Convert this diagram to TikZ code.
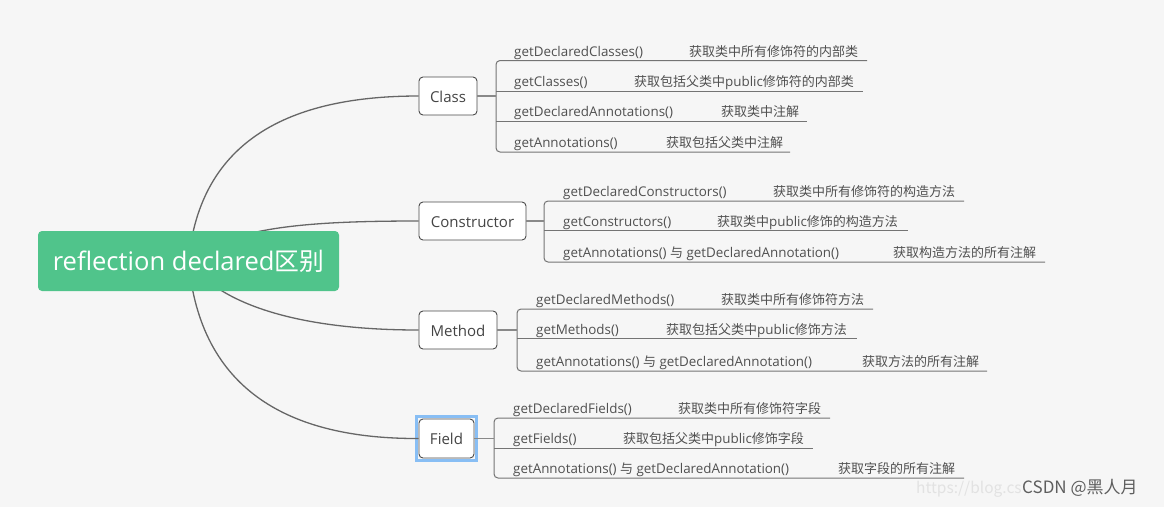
\documentclass[tikz,border=0pt]{standalone}
\usepackage{fontspec}
\setmainfont{Open Sans}[Scale=1.03]
\newfontfamily\cjk{Noto Sans CJK SC}
\definecolor{bgcol}{HTML}{F6F6F6}
\definecolor{rootcol}{HTML}{50C48B}
\definecolor{curvecol}{HTML}{666666}
\definecolor{boxline}{HTML}{4A4A4A}
\definecolor{brcol}{HTML}{747474}
\definecolor{leafcol}{HTML}{505050}
\definecolor{topiccol}{HTML}{444444}
\definecolor{hlcol}{HTML}{88BEF4}
\definecolor{wmcol}{HTML}{5E5E5E}
\definecolor{wmfaint}{HTML}{E2E2E2}
\newcommand\leafrow[8]{%
  \coordinate (#1s) at (#2,#5);
  \coordinate (#1e) at (#6,#5);
  \node[leaf] (#1n) at (#3,#5-4.5) {#7};
  \node[leaf] (#1d) at (#4,#5-4.5) {#8};
}
\begin{document}
\begin{tikzpicture}[x=1pt,y=-1pt,
  rootbox/.style={fill=rootcol, rounded corners=4pt, text=white, inner sep=0pt,
    minimum width=301pt, minimum height=60pt, text height=21pt, text depth=3pt,
    font=\fontsize{24.8}{28}\selectfont},
  topic/.style={draw=boxline, fill=white, rounded corners=4pt, line width=0.9pt,
    inner sep=0pt, minimum height=38pt, text=topiccol, text height=14pt, text depth=2pt,
    font=\fontsize{14.6}{17}\selectfont},
  leaf/.style={anchor=base west, inner sep=0pt, text=leafcol, font=\fontsize{13}{15}\selectfont},
  curve/.style={draw=curvecol, line width=1.3pt},
  br/.style={draw=brcol, line width=1pt, rounded corners=4pt},
  stub/.style={draw=brcol!85, line width=1.4pt},
  hl/.style={draw=hlcol, line width=2.8pt},
  wm/.style={anchor=base west, inner sep=0pt, font=\cjk\fontsize{17}{20}\selectfont}
]
\useasboundingbox (0,0) rectangle (1164,507);
\fill[bgcol] (0,0) rectangle (1164,507);

\coordinate (rc) at (188.5,261);

% topics
\node[topic, minimum width=58pt] (cls) at (448,96) {Class};
\node[topic, minimum width=107pt] (con) at (472.5,221) {Constructor};
\node[topic, minimum width=78pt] (met) at (458,330) {Method};
\node[topic, minimum width=55pt, minimum height=39pt] (fld) at (446.5,438.5) {Field};
\draw[hl] ([shift={(-1.7pt,1.7pt)}]fld.north west) rectangle ([shift={(1.7pt,-1.7pt)}]fld.south east);

% main curves
\draw[curve] (rc) .. controls (200,140) and (290,96) .. (cls.west);
\draw[curve] (rc) .. controls (230,228) and (300,221) .. (con.west);
\draw[curve] (rc) .. controls (220,305) and (300,330) .. (met.west);
\draw[curve] (rc) .. controls (200,391) and (290,439) .. (fld.west);

% root
\node[rootbox] (root) at (rc) {reflection declared{\cjk 区别}};

% Class group
\leafrow{a1}{496}{514}{689}{60.5}{867}{getDeclaredClasses()}{\cjk 获取类中所有修饰符的内部类}
\leafrow{a2}{496}{514}{634}{91}{863}{getClasses()}{{\cjk 获取包括父类中}public{\cjk 修饰符的内部类}}
\leafrow{a3}{496}{514}{721}{121}{807}{getDeclaredAnnotations()}{\cjk 获取类中注解}
\leafrow{a4}{496}{514}{666}{152}{790}{getAnnotations()}{\cjk 获取包括父类中注解}
\draw[br] (a1e) -- (a1s) -- (a4s) -- (a4e);
\draw[br] (a2s) -- (a2e);
\draw[br] (a3s) -- (a3e);
\draw[stub] (cls.east) -- (cls.east -| a1s);

% Constructor group
\leafrow{b1}{544}{563}{773}{201}{964}{getDeclaredConstructors()}{\cjk 获取类中所有修饰符的构造方法}
\leafrow{b2}{544}{563}{717}{230.5}{908}{getConstructors()}{{\cjk 获取类中}public{\cjk 修饰的构造方法}}
\leafrow{b3}{544}{563}{893}{262}{1045}{getAnnotations() {\cjk 与} getDeclaredAnnotation()}{\cjk 获取构造方法的所有注解}
\draw[br] (b1e) -- (b1s) -- (b3s) -- (b3e);
\draw[br] (b2s) -- (b2e);
\draw[stub] (con.east) -- (con.east -| b1s);

% Method group
\leafrow{c1}{517}{536}{721}{309}{873}{getDeclaredMethods()}{\cjk 获取类中所有修饰符方法}
\leafrow{c2}{517}{536}{666}{338.5}{857}{getMethods()}{{\cjk 获取包括父类中}public{\cjk 修饰方法}}
\leafrow{c3}{517}{536}{862}{371}{987}{getAnnotations() {\cjk 与} getDeclaredAnnotation()}{\cjk 获取方法的所有注解}
\draw[br] (c1e) -- (c1s) -- (c3s) -- (c3e);
\draw[br] (c2s) -- (c2e);
\draw[stub] (met.east) -- (met.east -| c1s);

% Field group
\leafrow{d1}{494}{513}{678}{418}{830}{getDeclaredFields()}{\cjk 获取类中所有修饰符字段}
\leafrow{d2}{494}{513}{623}{448}{813}{getFields()}{{\cjk 获取包括父类中}public{\cjk 修饰字段}}
\leafrow{d3}{494}{513}{838}{478}{964}{getAnnotations() {\cjk 与} getDeclaredAnnotation()}{\cjk 获取字段的所有注解}
\draw[br] (d1e) -- (d1s) -- (d3s) -- (d3e);
\draw[br] (d2s) -- (d2e);
\draw[stub] (fld.east) -- (fld.east -| d1s);

% watermark
\node[wm, text=wmfaint, font=\cjk\fontsize{15.5}{18}\selectfont] (url) at (916,493) {https://blog.cs};
\node[wm, text=wmcol] (csdn) at (1022,493) {CSDN @黑人月};
\end{tikzpicture}
\end{document}
